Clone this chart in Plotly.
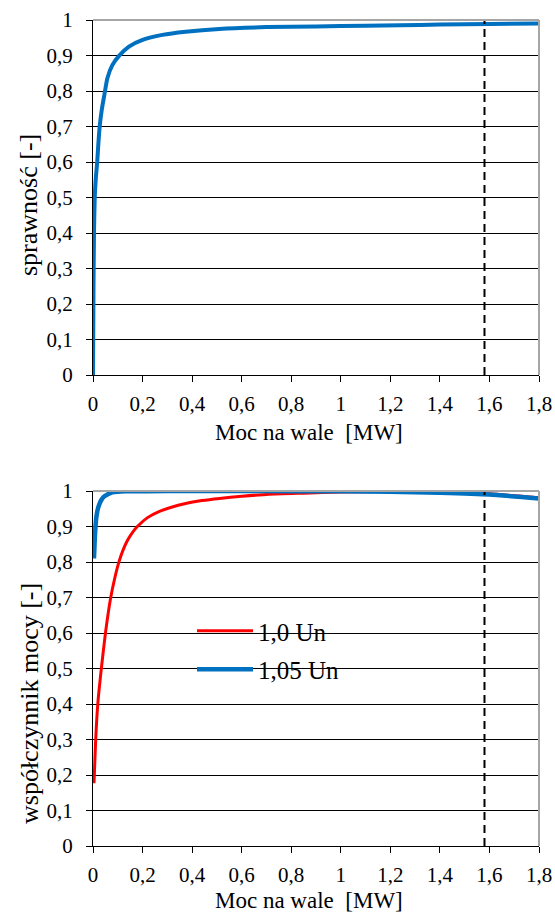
import plotly.graph_objects as go

# ---- data ----
eff_p = [0, 0.002, 0.004, 0.007, 0.012, 0.017, 0.022, 0.027, 0.036, 0.046, 0.058, 0.078, 0.105,
         0.145, 0.2, 0.28, 0.374, 0.51, 0.7, 0.9, 1.1, 1.24, 1.4, 1.6, 1.8]
eff_v = [0, 0.25, 0.4, 0.5, 0.56, 0.6, 0.655, 0.7, 0.75, 0.79, 0.836, 0.873, 0.899,
         0.925, 0.944, 0.958, 0.967, 0.975, 0.98, 0.982, 0.984, 0.985, 0.987, 0.989, 0.99]

pf10_p = [0.004, 0.011, 0.02, 0.034, 0.051, 0.071, 0.088, 0.105, 0.122, 0.14, 0.159, 0.179, 0.22,
          0.266, 0.32, 0.374, 0.44, 0.51, 0.6, 0.71, 0.85, 1.0, 1.2, 1.4, 1.6, 1.8]
pf10_v = [0.177, 0.303, 0.406, 0.502, 0.604, 0.698, 0.755, 0.801, 0.835, 0.862, 0.883, 0.9, 0.925,
          0.942, 0.955, 0.965, 0.973, 0.979, 0.985, 0.991, 0.994, 0.997, 0.999, 0.998, 0.992, 0.981]

pf105_p = [0.004, 0.008, 0.013, 0.018, 0.024, 0.033, 0.044, 0.06, 0.078, 0.1, 0.13, 0.3, 0.6,
           1.0, 1.2, 1.4, 1.6, 1.8]
pf105_v = [0.81, 0.876, 0.923, 0.945, 0.96, 0.974, 0.984, 0.991, 0.996, 0.998, 0.999, 1.0, 1.0,
           0.999, 0.998, 0.995, 0.99, 0.979]

rated_power = 1.58
x_ticks = [0, 0.2, 0.4, 0.6, 0.8, 1.0, 1.2, 1.4, 1.6, 1.8]
y_ticks = [0, 0.1, 0.2, 0.3, 0.4, 0.5, 0.6, 0.7, 0.8, 0.9, 1.0]

W, H = 555, 914
FONT = "Times New Roman, Liberation Serif, serif"
TICK = 21

def px_x(p):
    return p / W

def px_y(p):
    return 1 - p / H

fig = go.Figure()

fig.add_trace(go.Scatter(x=eff_p, y=eff_v, mode="lines",
                         line=dict(color="#0070C0", width=4, shape="spline", smoothing=0.5),
                         showlegend=False, xaxis="x", yaxis="y"))
fig.add_trace(go.Scatter(x=[rated_power, rated_power], y=[0, 1.04], mode="lines",
                         line=dict(color="black", width=2, dash="8px,5px"), showlegend=False,
                         cliponaxis=False, xaxis="x", yaxis="y"))

fig.add_trace(go.Scatter(x=pf10_p, y=pf10_v, mode="lines",
                         line=dict(color="#FF0000", width=3, shape="spline", smoothing=0.5),
                         name="1,0 Un", legendgroup="a", xaxis="x2", yaxis="y2"))
fig.add_trace(go.Scatter(x=pf105_p, y=pf105_v, mode="lines",
                         line=dict(color="#0070C0", width=4.5, shape="spline", smoothing=0.5),
                         name="1,05 Un", legendgroup="b", xaxis="x2", yaxis="y2"))
fig.add_trace(go.Scatter(x=[rated_power, rated_power], y=[0, 1.04], mode="lines",
                         line=dict(color="black", width=2, dash="8px,5px"), showlegend=False,
                         cliponaxis=False, xaxis="x2", yaxis="y2"))

xd = [px_x(93), px_x(539)]
yd1 = [px_y(375), px_y(20)]
yd2 = [px_y(846), px_y(491)]

tfont = dict(family=FONT, size=TICK, color="black")
xcommon = dict(range=[0, 1.8], tickvals=x_ticks, showgrid=False, showline=True, linecolor="black",
               linewidth=1, ticks="outside", ticklen=6, tickcolor="black", tickwidth=1,
               tickfont=tfont, zeroline=False, domain=xd, fixedrange=True, automargin=False,
               ticklabelstandoff=4)
ycommon = dict(range=[0, 1], tickvals=y_ticks, showgrid=True, gridcolor="black", gridwidth=1,
               showline=True, linecolor="black", linewidth=1, ticks="outside", ticklen=6,
               tickcolor="black", tickwidth=1, tickfont=tfont,
               zeroline=False, fixedrange=True, automargin=False, ticklabelstandoff=9)

fig.update_layout(
    width=W, height=H, margin=dict(l=0, r=0, t=0, b=0, autoexpand=False),
    paper_bgcolor="white", plot_bgcolor="white", separators=", ",
    font=dict(family=FONT, size=TICK, color="black"),
    xaxis=dict(xcommon, anchor="y"),
    yaxis=dict(ycommon, domain=yd1, anchor="x"),
    xaxis2=dict(xcommon, anchor="y2"),
    yaxis2=dict(ycommon, domain=yd2, anchor="x2"),
    legend=dict(x=px_x(192), y=px_y(608), xanchor="left", yanchor="top",
                bgcolor="rgba(0,0,0,0)", font=dict(family=FONT, size=25, color="black"),
                itemwidth=56, tracegroupgap=3),
    showlegend=True,
)

# gray plot-area border (top and right)
for yd in (yd1, yd2):
    fig.add_shape(type="line", xref="paper", yref="paper", x0=xd[0], x1=xd[1], y0=yd[1], y1=yd[1],
                  line=dict(color="#A6A6A6", width=2), layer="above")
    fig.add_shape(type="line", xref="paper", yref="paper", x0=xd[1], x1=xd[1], y0=yd[0], y1=yd[1],
                  line=dict(color="#A6A6A6", width=2), layer="above")

ann = dict(xref="paper", yref="paper", showarrow=False, font=dict(family=FONT, size=23, color="black"))
yann = dict(xref="paper", yref="paper", showarrow=False, font=dict(family=FONT, size=26, color="black"))
fig.add_annotation(ann, text="Moc na wale  [MW]", x=px_x(309), y=px_y(433), xanchor="center", yanchor="middle")
fig.add_annotation(ann, text="Moc na wale  [MW]", x=px_x(309), y=px_y(900), xanchor="center", yanchor="middle")
fig.add_annotation(yann, text="sprawność [-]", x=px_x(29), y=px_y(205), textangle=-90,
                   xanchor="center", yanchor="middle")
fig.add_annotation(yann, text="współczynnik mocy [-]", x=px_x(29), y=px_y(704), textangle=-90,
                   xanchor="center", yanchor="middle")

fig.write_html("out.html",
               post_script="document.body.style.margin='0';document.body.style.overflow='hidden';")
